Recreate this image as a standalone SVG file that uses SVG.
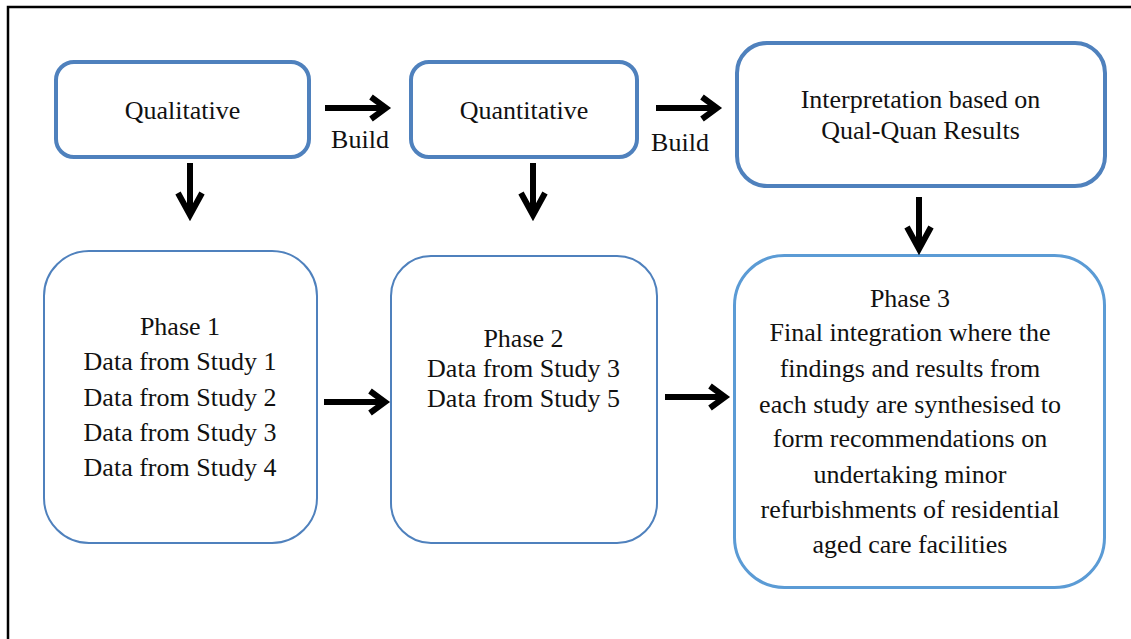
<svg xmlns="http://www.w3.org/2000/svg" width="1131" height="639" viewBox="0 0 1131 639">
  <style>
    text { font-family: "Liberation Serif", "Times New Roman", serif; font-size: 26px; fill: #111; text-anchor: middle; }
    .top { fill: #fff; stroke: #4F81BD; stroke-width: 4; }
    .phase { fill: #fff; stroke: #4F81BD; stroke-width: 2; }
    .final { fill: #fff; stroke: #5B9BD5; stroke-width: 3; }
    .arrow { fill: none; stroke: #000; stroke-width: 6; stroke-linejoin: miter; stroke-linecap: butt; }
  </style>
  <rect width="1131" height="639" fill="#fff"/>
  <!-- outer frame (runs off the right and bottom edges) -->
  <path d="M8,639 V7 H1131" fill="none" stroke="#000" stroke-width="2.5"/>

  <g id="qualitative">
    <rect class="top" x="56" y="62" width="253" height="95" rx="18"/>
    <text x="182.5" y="119">Qualitative</text>
  </g>
  <g id="quantitative">
    <rect class="top" x="411" y="62" width="226" height="95" rx="18"/>
    <text x="524" y="119">Quantitative</text>
  </g>
  <g id="interpretation">
    <rect class="top" x="737" y="43" width="368" height="143" rx="30"/>
    <text x="920.5" y="108">Interpretation based on</text>
    <text x="920.5" y="139">Qual-Quan Results</text>
  </g>
  <g id="phase1">
    <rect class="phase" x="44" y="251" width="273" height="292" rx="45"/>
    <text x="180" y="335">Phase 1</text>
    <text x="180" y="370">Data from Study 1</text>
    <text x="180" y="406">Data from Study 2</text>
    <text x="180" y="441">Data from Study 3</text>
    <text x="180" y="476">Data from Study 4</text>
  </g>
  <g id="phase2">
    <rect class="phase" x="391" y="256" width="266" height="287" rx="40"/>
    <text x="523.5" y="347">Phase 2</text>
    <text x="523.5" y="377">Data from Study 3</text>
    <text x="523.5" y="407">Data from Study 5</text>
  </g>
  <g id="phase3">
    <rect class="final" x="734.5" y="255.5" width="370" height="332" rx="50"/>
    <text x="910" y="307">Phase 3</text>
    <text x="910" y="341">Final integration where the</text>
    <text x="910" y="377">findings and results from</text>
    <text x="910" y="413">each study are synthesised to</text>
    <text x="910" y="447">form recommendations on</text>
    <text x="910" y="483">undertaking minor</text>
    <text x="910" y="518">refurbishments of residential</text>
    <text x="910" y="553">aged care facilities</text>
  </g>

  <g id="connectors">
    <!-- Build arrows between the top boxes -->
    <path class="arrow" d="M325,108 H385 M371,97 L386,108 L371,119"/>
    <text x="360" y="148">Build</text>
    <path class="arrow" d="M656,108 H716 M702,97 L717,108 L702,119"/>
    <text x="680" y="151">Build</text>
    <!-- downward arrows into the phases -->
    <path class="arrow" d="M190,163 V214 M178,193 L190,215 L202,193"/>
    <path class="arrow" d="M533,163 V214 M521,193 L533,215 L545,193"/>
    <path class="arrow" d="M919,197 V248 M907,227 L919,249 L931,227"/>
    <!-- phase to phase -->
    <path class="arrow" d="M324,402 H384 M370,391 L385,402 L370,413"/>
    <path class="arrow" d="M665,397 H724 M710,386 L725,397 L710,408"/>
  </g>
</svg>
